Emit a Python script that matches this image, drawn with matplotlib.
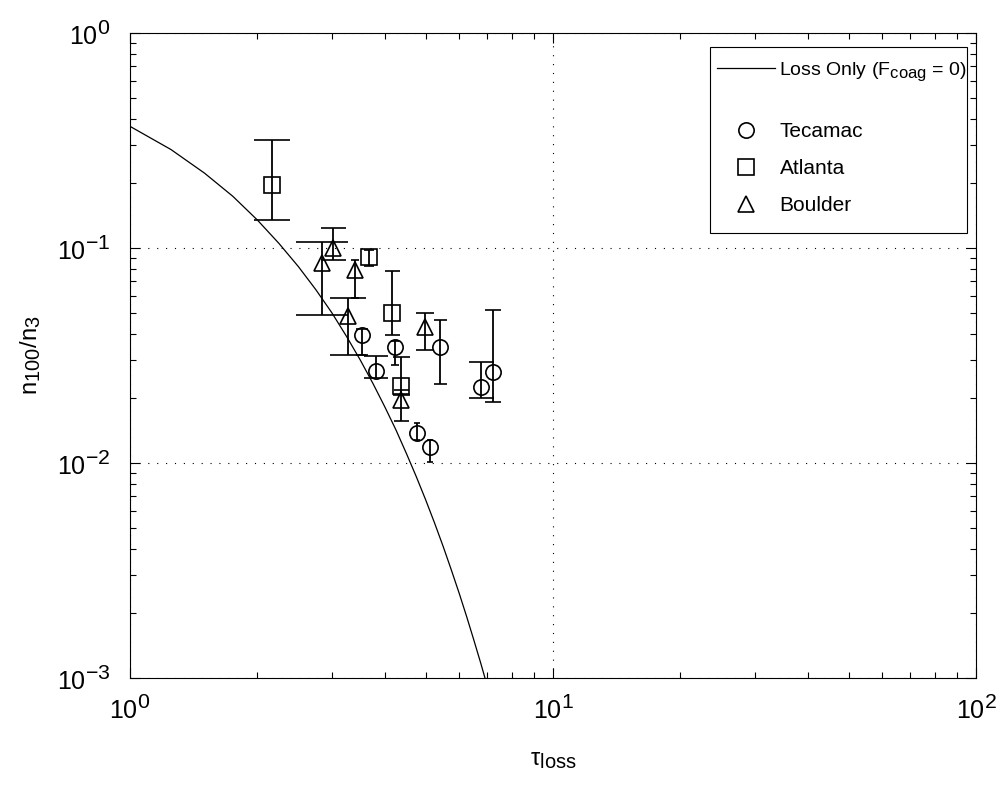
import matplotlib
matplotlib.use('Agg')
import matplotlib._mathtext
import matplotlib.pyplot as plt
from matplotlib.lines import Line2D
from matplotlib.patches import Rectangle
from matplotlib.ticker import LogLocator, LogFormatterSciNotation, NullFormatter

plt.rcParams['font.family'] = ['Liberation Sans', 'DejaVu Sans']
plt.rcParams['mathtext.fontset'] = 'custom'
plt.rcParams['mathtext.rm'] = 'Liberation Sans'
plt.rcParams['mathtext.it'] = 'Liberation Sans:italic'
plt.rcParams['mathtext.default'] = 'regular'
# sub/superscripts nearly full size
matplotlib._mathtext.SHRINK_FACTOR = 0.85

# loss-only model curve
tau_model = [1.0, 1.25, 1.5, 1.75, 2.0, 2.25, 2.5, 2.75, 3.0, 3.25, 3.5,
             3.75, 4.0, 4.25, 4.5, 4.75, 5.0, 5.25, 5.5, 5.75, 6.0, 6.25,
             6.5, 6.75, 7.0, 7.25]
ratio_model = [0.368, 0.287, 0.223, 0.174, 0.135, 0.105, 0.082, 0.064, 0.050,
               0.0388, 0.0302, 0.0235, 0.0183, 0.0143, 0.0111, 0.00865,
               0.00674, 0.00525, 0.00409, 0.00318, 0.00248, 0.00193,
               0.00150, 0.00117, 0.00091, 0.00071]

# Tecamac
tec_tau = [3.54, 3.82, 4.23, 5.41, 4.77, 5.12, 7.22, 6.76]
tec_ratio = [0.0394, 0.0268, 0.0346, 0.0346, 0.0138, 0.0119, 0.0265, 0.0226]
tec_lo = [0.0318, 0.0248, 0.0286, 0.0233, 0.0128, 0.0101, 0.0193, 0.0200]
tec_hi = [0.0420, 0.0315, 0.0370, 0.0463, 0.0154, 0.0128, 0.0515, 0.0296]

# Atlanta
atl_tau = [2.17, 3.67, 4.16, 4.37]
atl_ratio = [0.196, 0.0908, 0.0498, 0.0228]
atl_lo = [0.135, 0.0825, 0.0394, 0.0207]
atl_hi = [0.318, 0.098, 0.0782, 0.0311]

# Boulder
bou_tau = [3.02, 2.84, 3.40, 3.28, 4.37, 4.98]
bou_ratio = [0.100, 0.0851, 0.079, 0.0483, 0.0196, 0.0429]
bou_lo = [0.088, 0.0488, 0.0585, 0.0318, 0.0157, 0.0335]
bou_hi = [0.124, 0.107, 0.088, 0.0585, 0.0218, 0.0499]

# cap half-widths (pixels) for each point
tec_caps = [6, 12, 4, 6.5, 3, 3, 7.7, 12.5]
atl_caps = [18, 5, 7.5, 8.5]
bou_caps = [12.5, 26, 4, 18, 7.5, 9]

fig = plt.figure(figsize=(10.03, 7.87), dpi=100)
ax = fig.add_axes([130 / 1003, 1 - 678 / 787, 846 / 1003, 645 / 787])

ax.plot(tau_model, ratio_model, color='black', lw=0.9, zorder=3)

series = [
    (tec_tau, tec_ratio, tec_lo, tec_hi, tec_caps, 'o', 11),
    (atl_tau, atl_ratio, atl_lo, atl_hi, atl_caps, 's', 11),
    (bou_tau, bou_ratio, bou_lo, bou_hi, bou_caps, '^', 12),
]
for t, r, lo, hi, caps, mk, ms in series:
    for i in range(len(t)):
        yerr = [[r[i] - lo[i]], [hi[i] - r[i]]]
        ax.errorbar([t[i]], [r[i]], yerr=yerr, fmt=mk, ms=ms, mfc='none',
                    mec='black', mew=1.2, ecolor='black', elinewidth=1.3,
                    capsize=caps[i] * 0.72, capthick=1.3, zorder=4)

ax.set_xscale('log')
ax.set_yscale('log')
ax.set_xlim(1, 100)
ax.set_ylim(1e-3, 1)

ax.xaxis.set_major_locator(LogLocator(base=10, numticks=10))
ax.yaxis.set_major_locator(LogLocator(base=10, numticks=10))
ax.xaxis.set_minor_locator(LogLocator(base=10, subs=range(2, 10), numticks=10))
ax.yaxis.set_minor_locator(LogLocator(base=10, subs=range(2, 10), numticks=10))
ax.xaxis.set_major_formatter(LogFormatterSciNotation())
ax.yaxis.set_major_formatter(LogFormatterSciNotation())
ax.xaxis.set_minor_formatter(NullFormatter())
ax.yaxis.set_minor_formatter(NullFormatter())

ax.tick_params(which='both', direction='in', top=True, right=True, width=0.8)
ax.tick_params(which='major', length=7, labelsize=18)
ax.tick_params(axis='x', which='major', pad=12)
ax.tick_params(axis='y', which='major', pad=14)
ax.tick_params(which='minor', length=4)
for s in ax.spines.values():
    s.set_linewidth(0.8)

ax.grid(True, which='major', color='black', lw=0.8, linestyle=(0, (1, 7)))
ax.set_axisbelow(True)

ax.set_xlabel('τ$_{loss}$', fontsize=17, labelpad=18)
ax.set_ylabel('n$_{100}$/n$_3$', fontsize=17, labelpad=10)

# legend: frame plus two borderless blocks so the first row can sit higher
frame = Rectangle(((710 - 130) / 846, (678 - 233) / 645), 257 / 846, 186 / 645,
                  transform=ax.transAxes, fill=True, fc='white', ec='black',
                  lw=0.8, zorder=6)
ax.add_patch(frame)

line_handle = [Line2D([], [], color='black', lw=0.9)]
mark_handles = [
    Line2D([], [], ls='none', marker='o', ms=11, mfc='none', mec='black', mew=1.2),
    Line2D([], [], ls='none', marker='s', ms=11, mfc='none', mec='black', mew=1.2),
    Line2D([], [], ls='none', marker='^', ms=12, mfc='none', mec='black', mew=1.2),
]
leg_kw = dict(frameon=False, handletextpad=0.2, borderpad=0, borderaxespad=0)
leg1 = ax.legend(line_handle, ['Loss Only (F$_{coag}$ = 0)'], loc='upper left',
                 bbox_to_anchor=((717 - 130) / 846, (678 - 60) / 645),
                 fontsize=14, handlelength=3.0, **leg_kw)
leg1.set_zorder(7)
ax.add_artist(leg1)
leg2 = ax.legend(mark_handles, ['Tecamac', 'Atlanta', 'Boulder'], loc='upper left',
                 bbox_to_anchor=((717 - 130) / 846, (678 - 122) / 645),
                 fontsize=15, handlelength=2.8, labelspacing=0.86, **leg_kw)
leg2.set_zorder(7)

fig.savefig('out.png', dpi=100)
